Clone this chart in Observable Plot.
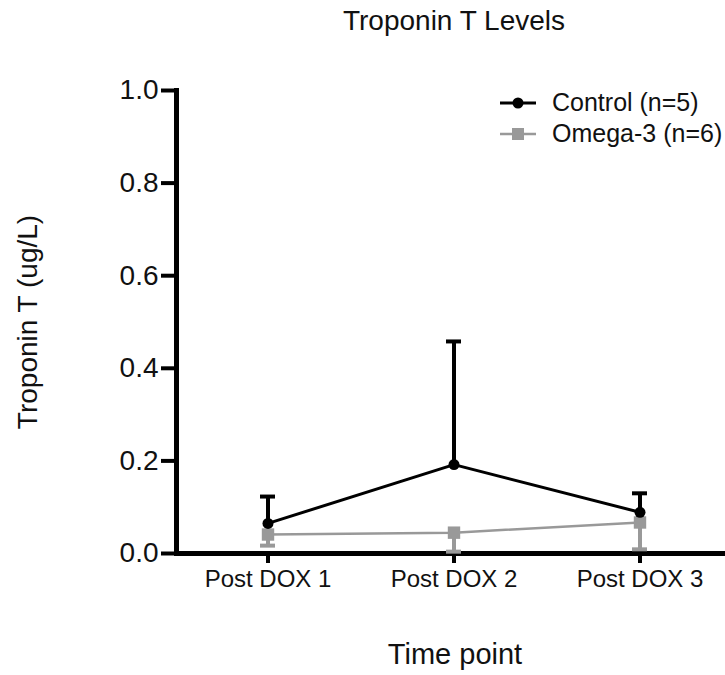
<!DOCTYPE html>
<html>
<head>
<meta charset="utf-8">
<script src="https://cdn.jsdelivr.net/npm/d3@7"></script>
<script src="https://cdn.jsdelivr.net/npm/@observablehq/plot@0.6"></script>
<style>
  body { margin: 0; background: #fff; font-family: "Liberation Sans", Arial, sans-serif; }
  #wrap { position: relative; width: 725px; height: 675px; overflow: hidden; }
  #title { position: absolute; left: 0; top: 4px; width: 725px; padding-left: 183px; box-sizing: border-box; text-align: center; font-size: 28px; color: #111; line-height: 34px; }
  #chart { position: absolute; left: 0; top: 50px; }
  #legend { position: absolute; left: 500px; top: 87px; font-size: 25px; color: #111; }
  #legend .row { display: flex; align-items: center; height: 31px; }
  #legend svg { margin-right: 16px; }
</style>
</head>
<body>
<div id="wrap">
  <div id="title">Troponin T Levels</div>
  <div id="chart"></div>
  <div id="legend"></div>
</div>
<script>
const timepoints = ["Post DOX 1", "Post DOX 2", "Post DOX 3"];
const controlMean = [0.065, 0.192, 0.089];
const controlUpper = [0.123, 0.458, 0.130];
const omegaMean = [0.041, 0.045, 0.067];
const omegaLower = [0.017, 0.004, 0.009];
const yTicks = [0, 0.2, 0.4, 0.6, 0.8, 1.0];
const seriesNames = ["Control (n=5)", "Omega-3 (n=6)"];
const black = "#000";
const gray = "#999";

const control = timepoints.map((t, i) => ({t, mean: controlMean[i], err: controlUpper[i]}));
const omega = timepoints.map((t, i) => ({t, mean: omegaMean[i], err: omegaLower[i]}));

const plot = Plot.plot({
  width: 725,
  height: 625,
  marginLeft: 176,
  marginRight: 0,
  marginTop: 40,
  marginBottom: 122,
  style: {fontFamily: "'Liberation Sans', Arial, sans-serif", color: "#111", background: "#fff", overflow: "visible"},
  x: {type: "band", domain: timepoints, range: [173.75, 733.25], paddingInner: 0.9196, paddingOuter: 0.4598},
  y: {domain: [0, 1]},
  marks: [
    Plot.axisY({ticks: yTicks, tickFormat: d3.format(".1f"), tickSize: 15, tickPadding: 3, fontSize: 28, strokeWidth: 4, label: null, stroke: "#000"}),
    Plot.axisX({tickSize: 10, tickPadding: 6, fontSize: 24, strokeWidth: 4, label: null, stroke: "#000"}),
    Plot.frame({anchor: "left", stroke: "#000", strokeWidth: 5}),
    Plot.ruleY([0], {stroke: "#000", strokeWidth: 5}),
    // Omega-3 series
    Plot.ruleX(omega, {x: "t", y1: "mean", y2: "err", stroke: gray, strokeWidth: 4}),
    Plot.tickY(omega, {x: "t", y: "err", stroke: gray, strokeWidth: 4}),
    Plot.line(omega, {x: "t", y: "mean", stroke: gray, strokeWidth: 2.5}),
    Plot.dot(omega, {x: "t", y: "mean", symbol: "square", r: 7, fill: gray, stroke: "none"}),
    // Control series
    Plot.ruleX(control, {x: "t", y1: "mean", y2: "err", stroke: black, strokeWidth: 4}),
    Plot.tickY(control, {x: "t", y: "err", stroke: black, strokeWidth: 4}),
    Plot.line(control, {x: "t", y: "mean", stroke: black, strokeWidth: 3}),
    Plot.dot(control, {x: "t", y: "mean", r: 5.5, fill: black, stroke: "none"}),
    // axis titles
    Plot.text(["Troponin T (ug/L)"], {frameAnchor: "left", textAnchor: "middle", lineAnchor: "middle", rotate: -90, dx: -148, fontSize: 28, fill: "#111"}),
    Plot.text(["Time point"], {frameAnchor: "bottom", dx: 4, dy: 110, fontSize: 29, fill: "#111"})
  ]
});
document.getElementById("chart").appendChild(plot);

// legend
const legend = document.getElementById("legend");
const legendSpecs = [
  {name: seriesNames[0], color: black, shape: "circle", w: 3},
  {name: seriesNames[1], color: gray, shape: "square", w: 2.5}
];
for (const s of legendSpecs) {
  const row = document.createElement("div");
  row.className = "row";
  const marker = s.shape === "circle"
    ? `<circle cx="18" cy="10" r="5.5" fill="${s.color}"/>`
    : `<rect x="12" y="4" width="12" height="12" fill="${s.color}"/>`;
  row.innerHTML = `<svg width="36" height="20"><line x1="0" x2="36" y1="10" y2="10" stroke="${s.color}" stroke-width="${s.w}"/>${marker}</svg><span>${s.name}</span>`;
  legend.appendChild(row);
}
</script>
</body>
</html>
